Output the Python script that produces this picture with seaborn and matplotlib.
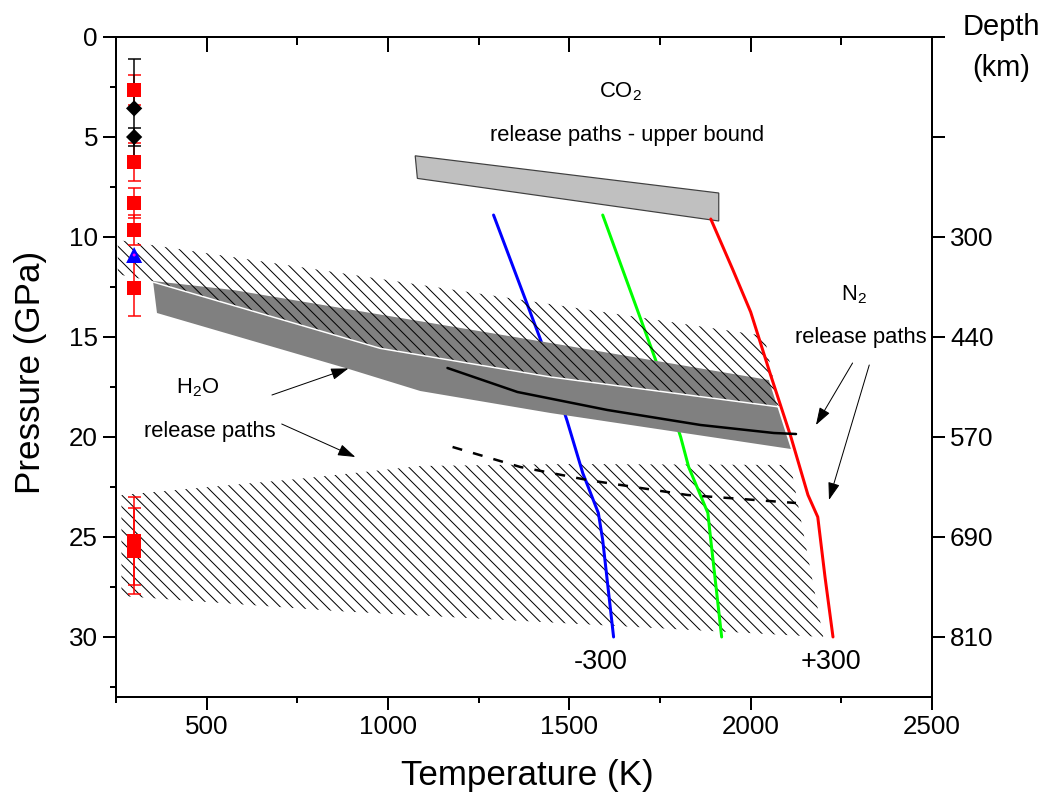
import matplotlib
matplotlib.use("Agg")
import matplotlib.pyplot as plt
from matplotlib.ticker import FixedLocator, NullLocator
import seaborn as sns

# ---------------- data ----------------
x_ticks = [500, 1000, 1500, 2000, 2500]
x_minor = [250, 750, 1250, 1750, 2250]
y_ticks = [0, 5, 10, 15, 20, 25, 30]
y_minor = [2.5, 7.5, 12.5, 17.5, 22.5, 27.5, 32.5]
depth_P = [0, 5, 10, 15, 20, 25, 30]
depth_labels = ["", "", "300", "440", "570", "690", "810"]

sq_T = [300, 300, 300, 300, 300, 300, 300]
sq_P = [2.65, 6.23, 8.28, 9.65, 12.57, 25.2, 25.7]
sq_err = [0.75, 0.95, 0.75, 0.75, 1.38, 2.2, 2.15]

dia_T = [300, 300]
dia_P = [3.57, 5.0]
dia_err = [2.45, 0.45]

tri_T = [300]
tri_P = [10.9]

blue_T = [1291, 1421, 1494, 1537, 1580, 1592, 1622]
blue_P = [8.9, 15.15, 19.2, 21.8, 23.8, 25.15, 30.0]
green_T = [1592, 1738, 1807, 1829, 1882, 1890, 1920]
green_P = [8.9, 16.15, 20.0, 21.5, 23.8, 25.15, 30.0]
red_T = [1890, 1950, 2000, 2055, 2111, 2158, 2185, 2205, 2227]
red_P = [9.1, 11.6, 13.75, 16.9, 20.0, 22.9, 24.0, 27.0, 30.0]

h2o_T = [1164, 1357, 1605, 1862, 2064, 2125]
h2o_P = [16.55, 17.75, 18.65, 19.4, 19.8, 19.85]
n2_T = [1178, 1365, 1550, 1826, 2125]
n2_P = [20.5, 21.5, 22.15, 22.9, 23.3]

band_T = [352, 573, 1448, 2050, 2111, 1448, 1089, 892, 363]
band_P = [12.2, 12.65, 15.3, 17.15, 20.6, 18.8, 17.7, 16.6, 13.8]

hatch_up_T = [255, 2040, 2080, 1448, 979, 352, 255]
hatch_up_P = [10.15, 14.95, 18.5, 17.0, 15.57, 12.25, 11.9]

hatch_lo_T = [265, 750, 1090, 1500, 2110, 2200, 857, 265]
hatch_lo_P = [22.9, 22.1, 21.45, 21.35, 21.4, 30.0, 28.7, 27.95]

co2_T = [1075, 1912, 1912, 1081]
co2_P = [5.94, 7.8, 9.2, 7.07]

texts = [
    ("CO$_2$", 1641, 2.75),
    ("release paths - upper bound", 1658, 4.9),
    ("N$_2$", 2285, 12.9),
    ("release paths", 2304, 15.05),
    ("H$_2$O", 476, 17.55),
    ("release paths", 509, 19.75),
]
curve_labels = [("-300", 1586, 31.25), ("+300", 2221, 31.25)]
arrows = [  # (tail_T, tail_P, head_T, head_P)
    (680, 17.9, 891, 16.57),
    (707, 19.35, 910, 21.0),
    (2281, 16.3, 2180, 19.4),
    (2327, 16.4, 2216, 23.15),
]

# ---------------- style ----------------
DPI = 70
def pt(px):
    return px * 72.0 / DPI

sns.set_style("ticks")
plt.rcParams["font.family"] = ["Liberation Sans", "DejaVu Sans"]
plt.rcParams["mathtext.default"] = "regular"
plt.rcParams["hatch.linewidth"] = pt(1.0)
plt.rcParams["hatch.color"] = "black"
plt.rcParams["text.color"] = "black"
plt.rcParams["axes.labelcolor"] = "black"
plt.rcParams["xtick.color"] = "black"
plt.rcParams["ytick.color"] = "black"
plt.rcParams["axes.edgecolor"] = "black"

fig = plt.figure(figsize=(1059 / DPI, 802 / DPI), dpi=DPI)
L, R, T, B = 116, 932, 37, 697
ax = fig.add_axes([L / 1059, 1 - B / 802, (R - L) / 1059, (B - T) / 802])

HATCH = "\\\\"
# hatched regions
ax.fill(hatch_lo_T, hatch_lo_P, facecolor="none", edgecolor="black", lw=0,
        hatch=HATCH, zorder=1)
# coloured release paths (under the grey band)
sns.lineplot(x=blue_T, y=blue_P, sort=False, estimator=None, color="#0000FF",
             lw=pt(3), ax=ax, zorder=1.5)
sns.lineplot(x=green_T, y=green_P, sort=False, estimator=None, color="#00FF00",
             lw=pt(3), ax=ax, zorder=1.5)
# grey band
ax.fill(band_T, band_P, facecolor="#808080", edgecolor="none", zorder=2)
# upper hatch over band, with white outline
ax.fill(hatch_up_T, hatch_up_P, facecolor="none", edgecolor="black", lw=0,
        hatch=HATCH, zorder=2.5)
ax.plot(hatch_up_T[1:], hatch_up_P[1:], color="white", lw=pt(1.5), zorder=2.6)
# CO2 box
ax.fill(co2_T, co2_P, facecolor="#C0C0C0", edgecolor="#404040", lw=pt(1.2),
        zorder=2)
# red path on top
sns.lineplot(x=red_T, y=red_P, sort=False, estimator=None, color="#FF0000",
             lw=pt(3), ax=ax, zorder=4)
# black paths
sns.lineplot(x=h2o_T, y=h2o_P, sort=False, estimator=None, color="black",
             lw=pt(2.5), ax=ax, zorder=4)
sns.lineplot(x=n2_T, y=n2_P, sort=False, estimator=None, color="black",
             lw=pt(2.5), ax=ax, zorder=4)
ax.lines[-1].set_dashes([4, 4.5])

# data points at 300 K
ax.errorbar(sq_T, sq_P, yerr=sq_err, fmt="none", ecolor="#FF0000",
            elinewidth=pt(1.5), capsize=pt(6.5), capthick=pt(1.5), zorder=5)
ax.errorbar(dia_T, dia_P, yerr=dia_err, fmt="none", ecolor="black",
            elinewidth=pt(1.5), capsize=pt(6.5), capthick=pt(1.5), zorder=5)
sns.scatterplot(x=sq_T, y=sq_P, marker="s", s=pt(14) ** 2, color="#FF0000",
                edgecolor="none", ax=ax, zorder=6)
sns.scatterplot(x=dia_T, y=dia_P, marker="D", s=pt(11.5) ** 2, color="black",
                edgecolor="none", ax=ax, zorder=6)
sns.scatterplot(x=tri_T, y=tri_P, marker="^", s=pt(16) ** 2, color="#0000FF",
                edgecolor="none", ax=ax, zorder=6)
sns.scatterplot(x=tri_T, y=tri_P, marker="o", s=pt(3) ** 2, color="#FF00FF",
                edgecolor="none", ax=ax, zorder=7)

# texts
for s, tx, py in texts:
    ax.text(tx, py, s, ha="center", va="center", fontsize=pt(22), zorder=8)
for s, tx, py in curve_labels:
    ax.text(tx, py, s, ha="center", va="center", fontsize=pt(27), zorder=8)
for t0, p0, t1, p1 in arrows:
    ax.annotate("", xy=(t1, p1), xytext=(t0, p0),
                arrowprops=dict(arrowstyle="-|>,head_length=1.5,head_width=0.5",
                                mutation_scale=pt(10), lw=pt(1.0),
                                color="black", shrinkA=0, shrinkB=0),
                zorder=8)

# axes
ax.set_xlim(250, 2500)
ax.set_ylim(33, 0)
ax.xaxis.set_major_locator(FixedLocator(x_ticks))
ax.xaxis.set_minor_locator(FixedLocator(x_minor))
ax.yaxis.set_major_locator(FixedLocator(y_ticks))
ax.yaxis.set_minor_locator(FixedLocator(y_minor))
ax.tick_params(which="major", direction="out", length=pt(13), width=pt(2),
               labelsize=pt(26), pad=pt(5), color="black", labelcolor="black",
               top=False, right=False)
ax.tick_params(which="minor", direction="out", length=pt(6), width=pt(2),
               color="black", top=False, right=False)
for sp in ax.spines.values():
    sp.set_linewidth(pt(2))
    sp.set_color("black")
    sp.set_visible(True)

secx = ax.secondary_xaxis("top")
secx.set_xticks(x_ticks)
secx.xaxis.set_minor_locator(FixedLocator(x_minor))
secx.tick_params(which="major", direction="in", length=pt(15), width=pt(2),
                 labeltop=False, color="black")
secx.tick_params(which="minor", direction="in", length=pt(8), width=pt(2),
                 color="black")
secx.spines["top"].set_linewidth(pt(2))

secy = ax.secondary_yaxis("right")
secy.set_yticks(depth_P, labels=depth_labels)
secy.yaxis.set_minor_locator(NullLocator())
secy.tick_params(which="major", direction="out", length=pt(13), width=pt(2),
                 labelsize=pt(26), pad=pt(5), color="black",
                 labelcolor="black")
secy.spines["right"].set_linewidth(pt(2))

ax.set_xlabel("Temperature (K)", fontsize=pt(35), va="center")
ax.xaxis.set_label_coords((527 - L) / (R - L), (B - 775) / (B - T))
ax.set_ylabel("Pressure (GPa)", fontsize=pt(35), va="center")
ax.yaxis.set_label_coords((30 - L) / (R - L), (B - 372) / (B - T))

fig.text(1001 / 1059, 1 - 27 / 802, "Depth", ha="center", va="center",
         fontsize=pt(29))
fig.text(1001 / 1059, 1 - 68 / 802, "(km)", ha="center", va="center",
         fontsize=pt(29))

fig.savefig("out.png", dpi=DPI)
